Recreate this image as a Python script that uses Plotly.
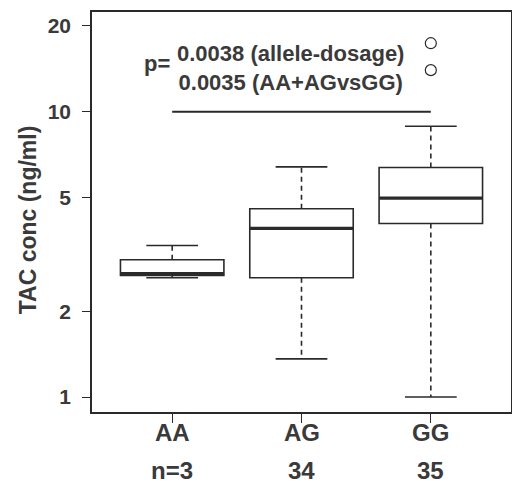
import plotly.graph_objects as go

# ---- data ----
genotypes = ["AA", "AG", "GG"]
n_labels = ["n=3", "34", "35"]
lower_whisker = [2.62, 1.36, 1.00]
q1 = [2.67, 2.62, 4.06]
median = [2.71, 3.90, 4.98]
q3 = [3.03, 4.57, 6.38]
upper_whisker = [3.40, 6.41, 8.90]
outlier_group = [2, 2]
outlier_values = [17.4, 14.0]
y_ticks = [1, 2, 5, 10, 20]
sig_line_x = [0, 2]
sig_line_y = [10, 10]
p_values_text = "0.0038 (allele-dosage)<br>0.0035 (AA+AGvsGG)"
y_title = "TAC conc (ng/ml)"

LINE = "#2a2a2a"
TEXT = "#3a3a3a"
FONT = "Liberation Sans, Arial, sans-serif"
BOX_W = 0.8
CAP_W = 0.4

xpos = list(range(len(genotypes)))

fig = go.Figure()

# boxes (whiskers drawn separately as dashed lines)
fig.add_trace(go.Box(
    x=xpos, q1=q1, median=median, q3=q3,
    lowerfence=q1, upperfence=q3,
    width=BOX_W, fillcolor="white",
    line=dict(color=LINE, width=1.6),
    whiskerwidth=0, boxpoints=False, showlegend=False, hoverinfo="skip",
))

for i, xc in enumerate(xpos):
    # dashed whiskers
    fig.add_trace(go.Scatter(
        x=[xc, xc, None, xc, xc],
        y=[q3[i], upper_whisker[i], None, q1[i], lower_whisker[i]],
        mode="lines", line=dict(color=LINE, width=1.6, dash="5px,4px"),
        showlegend=False, hoverinfo="skip"))
    # caps
    fig.add_trace(go.Scatter(
        x=[xc - CAP_W / 2, xc + CAP_W / 2, None, xc - CAP_W / 2, xc + CAP_W / 2],
        y=[upper_whisker[i], upper_whisker[i], None, lower_whisker[i], lower_whisker[i]],
        mode="lines", line=dict(color=LINE, width=1.6),
        showlegend=False, hoverinfo="skip"))
    # thick median
    fig.add_trace(go.Scatter(
        x=[xc - BOX_W / 2, xc + BOX_W / 2], y=[median[i], median[i]],
        mode="lines", line=dict(color=LINE, width=3.2),
        showlegend=False, hoverinfo="skip"))

# outliers
fig.add_trace(go.Scatter(
    x=outlier_group, y=outlier_values, mode="markers",
    marker=dict(symbol="circle-open", size=11, color=LINE, line=dict(width=1.2)),
    showlegend=False, hoverinfo="skip"))

# significance line
fig.add_trace(go.Scatter(
    x=sig_line_x, y=sig_line_y, mode="lines",
    line=dict(color=LINE, width=2), showlegend=False, hoverinfo="skip"))

# p-value text
fig.add_annotation(x=0.913, y=1.153, xref="x", yref="y",
                   text=p_values_text, showarrow=False, align="center",
                   font=dict(family=FONT, size=22, color=TEXT, weight="bold"))
fig.add_annotation(x=-0.12, y=1.171, xref="x", yref="y",
                   text="p=", showarrow=False,
                   font=dict(family=FONT, size=22, color=TEXT, weight="bold"))

# category labels and group sizes
for xc, lab, nl in zip(xpos, genotypes, n_labels):
    fig.add_annotation(x=xc, y=-0.051, xref="x", yref="paper",
                       text=lab, showarrow=False, yanchor="middle",
                       font=dict(family=FONT, size=24, color=TEXT, weight="bold"))
    fig.add_annotation(x=xc, y=-0.145, xref="x", yref="paper",
                       text=nl, showarrow=False, yanchor="middle",
                       font=dict(family=FONT, size=24, color=TEXT, weight="bold"))

# y axis title
fig.add_annotation(x=-0.152, y=0.48, xref="paper", yref="paper",
                   text=y_title, textangle=-90, showarrow=False,
                   xanchor="center", yanchor="middle",
                   font=dict(family=FONT, size=23, color=TEXT, weight="bold"))

fig.update_xaxes(
    range=[-0.62, 2.62], tickvals=xpos, showticklabels=False,
    showgrid=False, zeroline=False, showline=True, linecolor=LINE, linewidth=1.5,
    mirror=True, ticks="outside", ticklen=9, tickwidth=1.2, tickcolor=LINE,
    automargin=False,
)
fig.update_yaxes(
    type="log", range=[-0.0526, 1.35], tickvals=y_ticks,
    ticktext=[str(v) for v in y_ticks],
    showgrid=False, zeroline=False, showline=True, linecolor=LINE, linewidth=1.5,
    mirror=True, ticks="outside", ticklen=8, tickwidth=1.2, tickcolor=LINE,
    ticklabelstandoff=7, automargin=False,
    tickfont=dict(family=FONT, size=21, color=TEXT, weight="bold"),
)
fig.update_layout(
    width=512, height=484,
    margin=dict(l=92, r=1, t=12, b=72, autoexpand=False),
    plot_bgcolor="white", paper_bgcolor="white",
    showlegend=False,
)

fig.write_html(
    "out.html",
    config={"displayModeBar": False},
    post_script="document.body.style.margin='0';document.body.style.overflow='hidden';",
)
